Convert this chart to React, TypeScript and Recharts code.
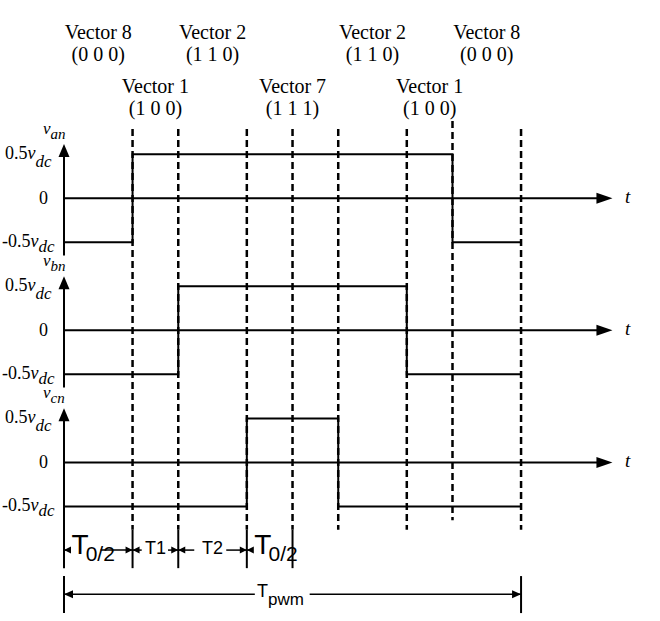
import React from "react";
import { ComposedChart, Line, Scatter, XAxis, YAxis, ReferenceLine } from "recharts";

const SERIF = '"Liberation Serif", "Times New Roman", serif';
const SANS = '"Liberation Sans", Arial, sans-serif';
const INK = "#000";

// one PWM period, measured in twentieths of Tpwm
const vectorBounds = [0, 3, 5, 8, 12, 15, 17, 20];
const vectorNames = ["Vector 8", "Vector 1", "Vector 2", "Vector 7", "Vector 2", "Vector 1", "Vector 8"];
const vectorStates = ["(0 0 0)", "(1 0 0)", "(1 1 0)", "(1 1 1)", "(1 1 0)", "(1 0 0)", "(0 0 0)"];
const dashedTimes = [3, 5, 8, 10, 12, 15, 17, 20];

// phase voltages, in units of 0.5 vdc
const phaseNames = ["an", "bn", "cn"];
const vanTimes = [0, 3, 17, 20];
const vanLevels = [-1, 1, -1, -1];
const vbnTimes = [0, 5, 15, 20];
const vbnLevels = [-1, 1, -1, -1];
const vcnTimes = [0, 8, 12, 20];
const vcnLevels = [-1, 1, -1, -1];
const levelTicks = [1, 0, -1];

// timing dimensions under the traces
const intervalBounds = [0, 3, 5, 8, 10];
const intervalNames = ["T", "T1", "T2", "T"];
const intervalSubs = ["0/2", "", "", "0/2"];
const periodBounds = [0, 20];

// layout
const W = 660;
const H = 621;
const AXIS_W = 64;
const X_MAX = 26.08;
const Y_MIN = -9.6;
const Y_MAX = 4.5;
const STEP = 3; // vertical distance between traces
const T_TIP = 24; // arrow tip of the time axes
const ROWS = [3.61, 3.11, 2.39, 1.89];
const DASH_TOP = 1.57;
const DASH_BOTTOM = -7.53;
const DIM_Y = -7.99;
const DIM_TICK = [-7.53, -8.4];
const PER_Y = -8.99;
const PER_TICK = [-8.58, -9.42];

const traces = [
  { times: vanTimes, levels: vanLevels },
  { times: vbnTimes, levels: vbnLevels },
  { times: vcnTimes, levels: vcnLevels },
].map((tr, p) => tr.times.map((t, i) => ({ t, v: tr.levels[i] - STEP * p })));

const yTicks = [0, 1, 2].flatMap((p) => levelTicks.map((l) => l - STEP * p));

const vectorLabels = vectorNames.flatMap((name, i) => {
  const mid = (vectorBounds[i] + vectorBounds[i + 1]) / 2;
  const row = (i % 2) * 2;
  return [
    { t: mid, v: ROWS[row], text: name },
    { t: mid, v: ROWS[row + 1], text: vectorStates[i] },
  ];
});

const timeLabels = [0, 1, 2].map((p) => ({ t: 24.55, v: -STEP * p }));

// visible pieces of the dimension lines, leaving room for the labels
const dimPieces = [
  [0, 0.3], [1.6, 3],
  [3, 3.4], [4.55, 5],
  [5, 5.7], [7.1, 8],
  [8, 8.25],
];
const perPieces = [[0, 8.35], [10.75, 20]];

const intervalLabels = intervalNames.map((name, i) => {
  const big = intervalSubs[i] !== "";
  return {
    t: big ? intervalBounds[i] + 0.33 : (intervalBounds[i] + intervalBounds[i + 1]) / 2,
    v: -8.07,
    text: name,
    sub: intervalSubs[i],
  };
});

const arrowHeads = [
  ...[0, 1, 2].map((p) => ({ t: 0, v: 1.23 - STEP * p, dir: "up", len: 13, half: 5.5 })),
  ...[0, 1, 2].map((p) => ({ t: T_TIP, v: -STEP * p, dir: "right", len: 16, half: 5.5 })),
  { t: intervalBounds[0], v: DIM_Y, dir: "left", len: 7, half: 3.5 },
  ...intervalBounds.slice(1, 4).flatMap((b) => [
    { t: b, v: DIM_Y, dir: "right", len: 7, half: 3.5 },
    { t: b, v: DIM_Y, dir: "left", len: 7, half: 3.5 },
  ]),
  { t: periodBounds[0], v: PER_Y, dir: "left", len: 9, half: 4 },
  { t: periodBounds[1], v: PER_Y, dir: "right", len: 9, half: 4 },
];

function Arrowhead(props: any) {
  const { cx, cy, payload } = props;
  const { dir, len, half } = payload;
  let pts = "";
  if (dir === "up") pts = `${cx},${cy} ${cx - half},${cy + len} ${cx + half},${cy + len}`;
  if (dir === "right") pts = `${cx},${cy} ${cx - len},${cy - half} ${cx - len},${cy + half}`;
  if (dir === "left") pts = `${cx},${cy} ${cx + len},${cy - half} ${cx + len},${cy + half}`;
  return <polygon points={pts} fill={INK} />;
}

function VectorText(props: any) {
  const { cx, cy, payload } = props;
  return (
    <text x={cx} y={cy} textAnchor="middle" fontFamily={SERIF} fontSize={20} fill={INK}>
      {payload.text}
    </text>
  );
}

function TimeText(props: any) {
  const { cx, cy } = props;
  return (
    <text x={cx} y={cy + 5} fontFamily={SERIF} fontStyle="italic" fontSize={19} fill={INK}>
      t
    </text>
  );
}

function IntervalText(props: any) {
  const { cx, cy, payload } = props;
  if (payload.sub) {
    return (
      <text x={cx} y={cy} fontFamily={SANS} fontSize={28} fill={INK}>
        {payload.text}
        <tspan dx={-3} dy={7} fontSize={21}>{payload.sub}</tspan>
      </text>
    );
  }
  return (
    <text x={cx} y={cy} textAnchor="middle" fontFamily={SANS} fontSize={18} fill={INK}>
      {payload.text}
    </text>
  );
}

function PeriodText(props: any) {
  const { cx, cy } = props;
  return (
    <text x={cx} y={cy} fontFamily={SANS} fontSize={18} fill={INK}>
      T<tspan dy={8} fontSize={17}>pwm</tspan>
    </text>
  );
}

function LevelTick(props: any) {
  const { x, y, payload } = props;
  const v = payload.value as number;
  const panel = Math.floor((1 - v) / STEP);
  const level = Math.round(v + STEP * panel);
  const font = { fontFamily: SERIF, fontSize: 18, fill: INK };
  if (level === 0) {
    return (
      <text x={x - 25} y={y + 6} {...font}>
        0
      </text>
    );
  }
  return (
    <g>
      <text x={x - (level > 0 ? 59 : 62)} y={y + 5} {...font}>
        {level > 0 ? "" : "-"}0.5
        <tspan fontStyle="italic">v</tspan>
        <tspan fontStyle="italic" fontSize={17} dy={level > 0 ? 8 : 5}>
          dc
        </tspan>
      </text>
      {level > 0 && (
        <text x={x - 21} y={y - 20} {...font} fontSize={17}>
          <tspan fontStyle="italic">v</tspan>
          <tspan fontStyle="italic" fontSize={15} dy={5}>
            {phaseNames[panel]}
          </tspan>
        </text>
      )}
    </g>
  );
}

const seg = (x1: number, y1: number, x2: number, y2: number) => [
  { x: x1, y: y1 },
  { x: x2, y: y2 },
];

export default function App() {
  return (
    <div style={{ position: "absolute", left: 0, top: 0, width: W, height: H, background: "#fff" }}>
      <ComposedChart width={W} height={H} margin={{ top: 0, right: 0, bottom: 0, left: 0 }}>
        <XAxis type="number" dataKey="t" domain={[0, X_MAX]} hide />
        <YAxis
          type="number"
          dataKey="v"
          domain={[Y_MIN, Y_MAX]}
          width={AXIS_W}
          ticks={yTicks}
          interval={0}
          axisLine={false}
          tickLine={false}
          tickSize={0}
          tickMargin={0}
          tick={(p: any) => <LevelTick {...p} />}
        />

        {/* time axes and voltage axes */}
        {[0, 1, 2].map((p) => (
          <ReferenceLine
            key={`tx${p}`}
            segment={seg(0, -STEP * p, T_TIP - 0.3, -STEP * p)}
            stroke={INK}
            strokeWidth={2}
          />
        ))}
        {[0, 1, 2].map((p) => (
          <ReferenceLine
            key={`vy${p}`}
            segment={seg(0, p === 2 ? DIM_TICK[1] : -1.3 - STEP * p, 0, 1.0 - STEP * p)}
            stroke={INK}
            strokeWidth={2}
          />
        ))}

        {/* switching instants */}
        {dashedTimes.map((t) => (
          <ReferenceLine
            key={`d${t}`}
            segment={seg(t, t === 17 ? 1.75 : DASH_TOP, t, t === 17 ? -7.31 : DASH_BOTTOM)}
            stroke={INK}
            strokeWidth={2.5}
            strokeDasharray="7 4"
          />
        ))}

        {/* dimension lines */}
        {intervalBounds.slice(1).map((t) => (
          <ReferenceLine key={`it${t}`} segment={seg(t, DIM_TICK[0], t, DIM_TICK[1])} stroke={INK} strokeWidth={2} />
        ))}
        {dimPieces.map(([a, b]) => (
          <ReferenceLine key={`ip${a}`} segment={seg(a, DIM_Y, b, DIM_Y)} stroke={INK} strokeWidth={1.5} />
        ))}
        {periodBounds.map((t) => (
          <ReferenceLine key={`pt${t}`} segment={seg(t, PER_TICK[0], t, PER_TICK[1])} stroke={INK} strokeWidth={2} />
        ))}
        {perPieces.map(([a, b]) => (
          <ReferenceLine key={`pp${a}`} segment={seg(a, PER_Y, b, PER_Y)} stroke={INK} strokeWidth={1.5} />
        ))}

        {traces.map((data, p) => (
          <Line
            key={`tr${p}`}
            data={data}
            dataKey="v"
            type="stepAfter"
            stroke={INK}
            strokeWidth={2}
            dot={false}
            activeDot={false}
            isAnimationActive={false}
          />
        ))}

        <Scatter data={arrowHeads} dataKey="v" shape={Arrowhead} isAnimationActive={false} />
        <Scatter data={vectorLabels} dataKey="v" shape={VectorText} isAnimationActive={false} />
        <Scatter data={timeLabels} dataKey="v" shape={TimeText} isAnimationActive={false} />
        <Scatter data={intervalLabels} dataKey="v" shape={IntervalText} isAnimationActive={false} />
        <Scatter
          data={[{ t: 8.45, v: -9.06 }]}
          dataKey="v"
          shape={PeriodText}
          isAnimationActive={false}
        />
      </ComposedChart>
    </div>
  );
}
